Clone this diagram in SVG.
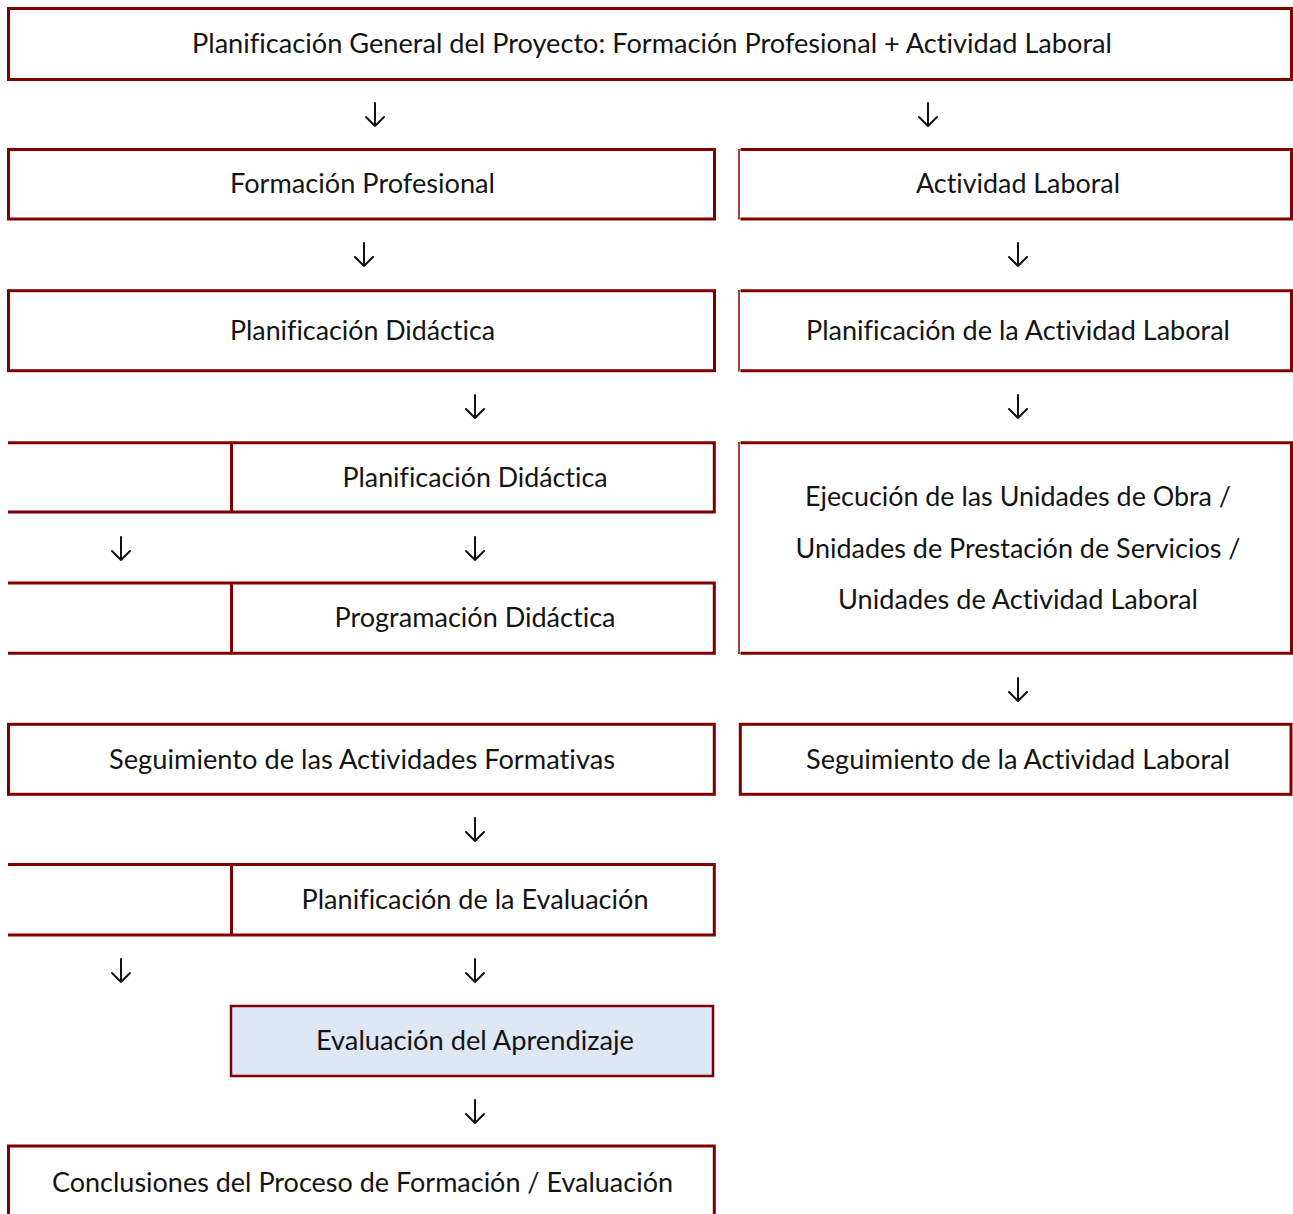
<svg xmlns="http://www.w3.org/2000/svg" width="1293" height="1214" viewBox="0 0 1293 1214">
<style>
.b{fill:none;stroke:#800000;stroke-width:3}
.bt{fill:none;stroke:#8a1010;stroke-width:1.6}
.t{font-family:Lato,"Liberation Sans",sans-serif;font-size:26px;fill:#141414;text-anchor:middle;font-variant-ligatures:none}
.a{fill:none;stroke:#111;stroke-width:2;stroke-linecap:round;stroke-linejoin:round}
</style>
<rect width="1293" height="1214" fill="#fff"/>
<g id="n1"><rect class="b" x="8.5" y="8.5" width="1283" height="71"/>
<text class="t" x="652" y="53" textLength="920" lengthAdjust="spacingAndGlyphs">Planificación General del Proyecto: Formación Profesional + Actividad Laboral</text></g>
<g id="n2"><rect class="b" x="8.5" y="149.5" width="706" height="69.5"/>
<text class="t" x="362.5" y="193" textLength="265" lengthAdjust="spacingAndGlyphs">Formación Profesional</text></g>
<g id="n3"><path class="b" d="M740.5 149.5H1291.5V219H740.5"/><path class="bt" d="M739 149V219.5"/>
<text class="t" x="1018" y="193" textLength="204" lengthAdjust="spacingAndGlyphs">Actividad Laboral</text></g>
<g id="n4"><rect class="b" x="8.5" y="290.7" width="706" height="80"/>
<text class="t" x="362.5" y="340" textLength="265" lengthAdjust="spacingAndGlyphs">Planificación Didáctica</text></g>
<g id="n5"><path class="b" d="M740.5 290.7H1291.5V370.7H740.5"/><path class="bt" d="M739 290V371.5"/>
<text class="t" x="1018" y="340" textLength="424" lengthAdjust="spacingAndGlyphs">Planificación de la Actividad Laboral</text></g>
<g id="n6"><path class="b" d="M8 442.7H714.3V512H8M231.5 442.7V512"/>
<text class="t" x="475" y="486.5" textLength="265" lengthAdjust="spacingAndGlyphs">Planificación Didáctica</text></g>
<g id="n7"><path class="b" d="M740.5 442.7H1291.5V653.3H740.5"/><path class="bt" d="M739 442V654"/>
<text class="t" x="1018" y="506" textLength="426" lengthAdjust="spacingAndGlyphs">Ejecución de las Unidades de Obra /</text>
<text class="t" x="1018" y="558" textLength="445" lengthAdjust="spacingAndGlyphs">Unidades de Prestación de Servicios /</text>
<text class="t" x="1018" y="609" textLength="360" lengthAdjust="spacingAndGlyphs">Unidades de Actividad Laboral</text></g>
<g id="n8"><path class="b" d="M8 583H714.3V653.3H8M231.5 583V653.3"/>
<text class="t" x="475" y="627" textLength="281" lengthAdjust="spacingAndGlyphs">Programación Didáctica</text></g>
<g id="n9"><rect class="b" x="8.5" y="724.3" width="705.8" height="70"/>
<text class="t" x="362" y="768.5" textLength="506" lengthAdjust="spacingAndGlyphs">Seguimiento de las Actividades Formativas</text></g>
<g id="n10"><rect class="b" x="740.3" y="724.3" width="550.7" height="70"/>
<text class="t" x="1018" y="768.5" textLength="424" lengthAdjust="spacingAndGlyphs">Seguimiento de la Actividad Laboral</text></g>
<g id="n11"><path class="b" d="M8 864.5H714.3V935H8M231.5 864.5V935"/>
<text class="t" x="475" y="909" textLength="347" lengthAdjust="spacingAndGlyphs">Planificación de la Evaluación</text></g>
<g id="n12"><rect x="231" y="1006" width="482" height="70" fill="#dee7f5" stroke="#800000" stroke-width="2.5"/>
<text class="t" x="475" y="1050" textLength="318" lengthAdjust="spacingAndGlyphs">Evaluación del Aprendizaje</text></g>
<g id="n13"><path class="b" d="M8.5 1216V1146H714.3V1216"/>
<text class="t" x="362.5" y="1192" textLength="621" lengthAdjust="spacingAndGlyphs">Conclusiones del Proceso de Formación / Evaluación</text></g>
<g id="connectors">
<path class="a" d="M375 103V126M366 117L375 126L384 117"/>
<path class="a" d="M928 103V126M919 117L928 126L937 117"/>
<path class="a" d="M364 243V266M355 257L364 266L373 257"/>
<path class="a" d="M1018 243V266M1009 257L1018 266L1027 257"/>
<path class="a" d="M475 395V418M466 409L475 418L484 409"/>
<path class="a" d="M1018 395V418M1009 409L1018 418L1027 409"/>
<path class="a" d="M121 537V560M112 551L121 560L130 551"/>
<path class="a" d="M475 537V560M466 551L475 560L484 551"/>
<path class="a" d="M1018 678V701M1009 692L1018 701L1027 692"/>
<path class="a" d="M475 818V841M466 832L475 841L484 832"/>
<path class="a" d="M121 959V982M112 973L121 982L130 973"/>
<path class="a" d="M475 959V982M466 973L475 982L484 973"/>
<path class="a" d="M475 1100V1123M466 1114L475 1123L484 1114"/>
</g>
</svg>
